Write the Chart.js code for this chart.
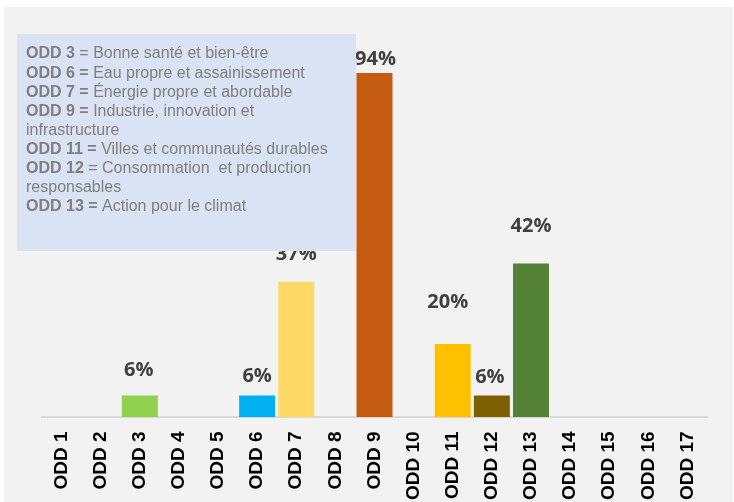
<!DOCTYPE html>
<html>
<head>
<meta charset="utf-8">
<script src="https://cdn.jsdelivr.net/npm/chart.js@4"></script>
<style>
  html, body { margin: 0; padding: 0; background: #ffffff; }
  #wrap { position: absolute; left: 0; top: 0; width: 734px; height: 502px; }
</style>
</head>
<body>
<div id="wrap"><canvas id="myChart" width="734" height="502"></canvas></div>
<script>
// DATA
const odds = ['ODD 1', 'ODD 2', 'ODD 3', 'ODD 4', 'ODD 5', 'ODD 6', 'ODD 7', 'ODD 8', 'ODD 9',
    'ODD 10', 'ODD 11', 'ODD 12', 'ODD 13', 'ODD 14', 'ODD 15', 'ODD 16', 'ODD 17'];
const shares = [0, 0, 6, 0, 0, 6, 37, 0, 94, 0, 20, 6, 42, 0, 0, 0, 0];
const barColors = ['#92D050', '#92D050', '#92D050', '#00B0F0', '#00B0F0', '#00B0F0', '#FFD966', '#C55A11', '#C55A11',
    '#FFC000', '#FFC000', '#7F6000', '#538135', '#538135', '#538135', '#538135', '#538135'];
const legendLines = [
    ['ODD 3', ' = Bonne santé et bien-être'],
    ['ODD 6 =', ' Eau propre et assainissement'],
    ['ODD 7 =', ' Énergie propre et abordable'],
    ['ODD 9 =', ' Industrie, innovation et'],
    ['', 'infrastructure'],
    ['ODD 11 =', ' Villes et communautés durables'],
    ['ODD 12', ' = Consommation  et production'],
    ['', 'responsables'],
    ['ODD 13 =', ' Action pour le climat']
];

// how far above the bar top each % label sits (px)
const labelLift = [0, 0, 25, 0, 0, 19, 28, 0, 14, 0, 42, 18, 37, 0, 0, 0, 0];
const labelNudge = [0, 0, -1, 0, 0, 0, 0, 0, 1, 0, -5, -2, 0, 0, 0, 0, 0];

// BACKGROUND
const backPlugin = {
    id: 'back',
    beforeDraw(chart) {
        const c = chart.ctx;
        c.save();
        c.fillStyle = '#ffffff';
        c.fillRect(0, 0, chart.width, chart.height);
        c.fillStyle = '#F2F2F2';
        c.fillRect(4, 7, chart.width - 5, chart.height - 7);
        c.restore();
    }
};

// % LABELS ON BARS
const valuePlugin = {
    id: 'values',
    afterDatasetsDraw(chart) {
        const c = chart.ctx;
        const meta = chart.getDatasetMeta(0);
        c.save();
        c.font = 'bold 20px "Open Sans"';
        c.fillStyle = '#404040';
        c.textAlign = 'center';
        c.textBaseline = 'middle';
        meta.data.forEach((bar, i) => {
            if (!shares[i]) return;
            c.fillText(shares[i] + '%', bar.x + labelNudge[i], bar.y - labelLift[i]);
        });
        c.restore();
    }
};

// TEXT BOX
const boxPlugin = {
    id: 'box',
    afterDraw(chart) {
        const c = chart.ctx;
        c.save();
        c.fillStyle = '#DAE3F3';
        c.fillRect(17, 34, 339, 217);
        c.fillStyle = '#7F7F7F';
        c.textBaseline = 'middle';
        let y = 54;
        for (const [head, rest] of legendLines) {
            let x = 26;
            if (head) {
                c.font = 'bold 16px "Liberation Sans"';
                c.fillText(head, x, y);
                x += c.measureText(head).width;
            }
            c.font = '16px "Liberation Sans"';
            c.fillText(rest, x, y);
            y += 19.1;
        }
        c.restore();
    }
};

let ctx = document.getElementById('myChart').getContext('2d');
new Chart(ctx, {
    type: 'bar',
    data: {
        labels: odds,
        datasets: [{
            data: shares,
            backgroundColor: barColors,
            barPercentage: 0.92,
            categoryPercentage: 1.0
        }]
    },
    options: {
        responsive: false,
        animation: false,
        layout: { padding: { left: 42, right: 27, top: 51, bottom: -12 } },
        plugins: {
            legend: { display: false },
            tooltip: { enabled: false }
        },
        scales: {
            x: {
                grid: { display: false, drawTicks: false },
                border: { color: '#D9D9D9', width: 2 },
                ticks: {
                    color: '#000000',
                    font: { family: '"Liberation Sans"', size: 19, weight: 'bold' },
                    minRotation: 90,
                    maxRotation: 90,
                    padding: 14,
                    autoSkip: false
                }
            },
            y: {
                display: false,
                min: 0,
                max: 100
            }
        }
    },
    plugins: [backPlugin, valuePlugin, boxPlugin]
});
</script>
</body>
</html>
